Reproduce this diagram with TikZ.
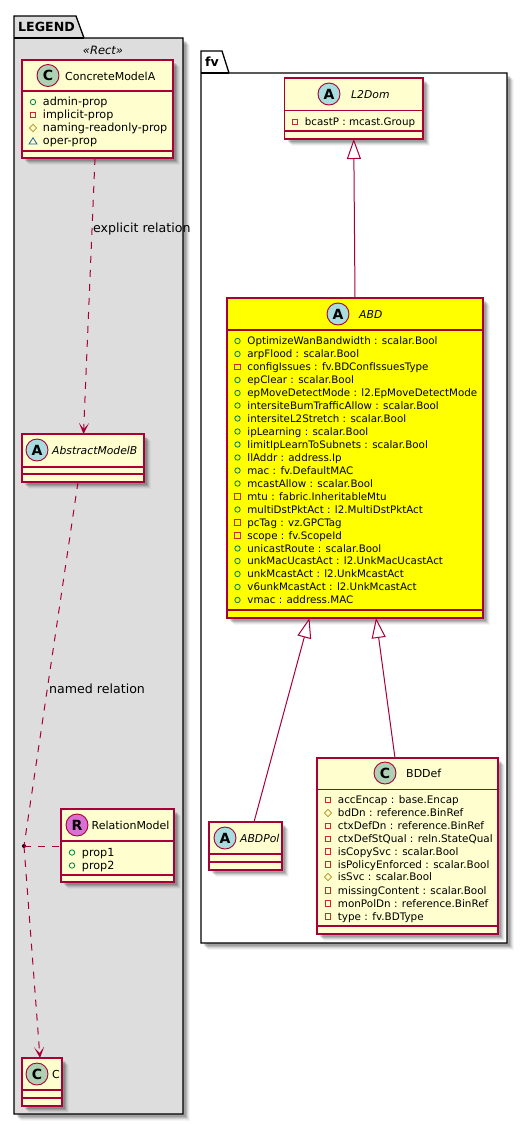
\documentclass[tikz,border=0pt]{standalone}
\usepackage{fontspec}
\setmainfont{DejaVu Sans}
\usetikzlibrary{arrows.meta,calc}
\definecolor{umlred}{HTML}{A80036}
\definecolor{umlfill}{HTML}{FEFECE}
\definecolor{legendgrey}{HTML}{DDDDDD}
\definecolor{cgreen}{HTML}{ADD1B2}
\definecolor{ablue}{HTML}{A9DCDF}
\definecolor{rorchid}{HTML}{DA70D6}
\definecolor{icongreen}{HTML}{038048}
\definecolor{iconred}{HTML}{C82930}
\definecolor{icongold}{HTML}{B38D22}
\definecolor{iconblue}{HTML}{1963A0}
\definecolor{abdyellow}{HTML}{FFFF00}
\newcommand{\attrsize}{10.3}
\tikzset{
  x=1pt,y=-1pt,
  classbox/.style={draw=umlred,line width=1.25pt,inner sep=0pt,outer sep=0pt},
  sepline/.style={draw=umlred,line width=1.25pt},
  pkgline/.style={draw=black,line width=1.3pt},
  spot/.style={circle,draw=umlred,line width=.9pt,inner sep=0pt,minimum size=22pt,font=\fontsize{14}{14}\selectfont\bfseries},
  title/.style={inner sep=0pt,anchor=west,font=\fontsize{11}{12}\selectfont},
  ititle/.style={inner sep=0pt,anchor=west,font=\fontsize{10.8}{12}\selectfont\itshape},
  attrtext/.style={inner sep=0pt,anchor=base west,font=\fontsize{\attrsize}{12}\selectfont},
  linktext/.style={inner sep=0pt,anchor=west,font=\fontsize{12.6}{14}\selectfont},
  dep/.style={draw=umlred,line width=1pt,dash pattern=on 7pt off 7pt},
  depvee/.style={dep,-{Stealth[length=11pt,width=10pt,inset=6pt,fill=umlred,sep=0pt]}},
  gener/.style={draw=umlred,line width=1pt,-{Triangle[length=20pt,width=14pt,fill=white]}},
}
\newcounter{attrcnt}
% soft shadow: x1 y1 x2 y2
\newcommand{\softshade}[4]{%
  \foreach \d/\o in {7/.04,6/.06,5/.09,4/.12,3/.13}{%
    \fill[black,opacity=\o] (#1+\d,#2+\d) rectangle (#3+\d,#4+\d);}}
% name, x1,y1,x2,y2, fill, sep1, sep2
\newcommand{\umlclass}[8]{%
  \softshade{#2}{#3}{#4}{#5}%
  \pgfmathsetmacro{\bw}{#4-#2}\pgfmathsetmacro{\bh}{#5-#3}%
  \node[classbox,fill=#6,minimum width=\bw pt,minimum height=\bh pt] (#1) at ({(#2+#4)/2},{(#3+#5)/2}) {};%
  \draw[sepline] (#2,#7) -- (#4,#7);
  \draw[sepline] (#2,#8) -- (#4,#8);}
% kind x y text
\newcommand{\attr}[4]{%
  \stepcounter{attrcnt}%
  \csname icon#1\endcsname{#2}{#3}%
  \node[attrtext] (attr\theattrcnt) at (#2+9.7,#3+3.6) {#4};}
\newcommand{\iconpub}[2]{\draw[icongreen,line width=.8pt] (#1,#2) circle (2.7pt);}
\newcommand{\iconpriv}[2]{\draw[iconred,line width=.8pt] (#1-2.7,#2-2.7) rectangle (#1+2.7,#2+2.7);}
\newcommand{\iconprot}[2]{\draw[icongold,line width=.8pt] (#1,#2-3.6) -- (#1+3.6,#2) -- (#1,#2+3.6) -- (#1-3.6,#2) -- cycle;}
\newcommand{\iconpack}[2]{\draw[iconblue,line width=.8pt] (#1,#2-3.2) -- (#1+4,#2+3) -- (#1-4,#2+3) -- cycle;}
\begin{document}
\begin{tikzpicture}
\useasboundingbox (0,0) rectangle (528,1125);
% packages
\softshade{14}{38}{183}{1114}
\draw[pkgline,fill=legendgrey] (14,38) -- (14,16) -- (76,16) -- (84,38) -- (183,38) -- (183,1114) -- (14,1114) -- cycle;
\draw[pkgline] (14,38) -- (84,38);
\node[inner sep=0pt,anchor=west,font=\fontsize{12.6}{14}\selectfont\bfseries] (legendlabel) at (18,27) {LEGEND};
\node[inner sep=0pt,font=\fontsize{11.5}{13}\selectfont\itshape] (rectlabel) at (103,50) {«Rect»};
\softshade{201}{73}{507}{943}
\draw[pkgline,fill=white] (201,73) -- (201,51) -- (222,51) -- (229,73) -- (507,73) -- (507,943) -- (201,943) -- cycle;
\draw[pkgline] (201,73) -- (229,73);
\node[inner sep=0pt,anchor=west,font=\fontsize{12.6}{14}\selectfont\bfseries] (fvlabel) at (205,62) {fv};

% ConcreteModelA
\umlclass{concrete}{22}{60}{173}{158}{umlfill}{91}{151}
\node[spot,fill=cgreen] (concretespot) at (48,75.5) {C};
\node[title] (concretetitle) at (65,76) {ConcreteModelA};
\renewcommand{\attrsize}{11.2}
\attr{pub}{33}{102}{admin-prop}
\attr{priv}{33}{115}{implicit-prop}
\attr{prot}{33}{128}{naming-readonly-prop}
\attr{pack}{33}{141}{oper-prop}

% AbstractModelB
\umlclass{abstractb}{22}{434}{144}{482}{umlfill}{467}{474}
\node[spot,fill=ablue] (abstractbspot) at (37,450) {A};
\node[ititle] (abstractbtitle) at (52,450.5) {AbstractModelB};

% RelationModel
\umlclass{relation}{61}{809}{174}{882}{umlfill}{841}{875}
\node[spot,fill=rorchid] (relationspot) at (77,825) {R};
\node[title] (relationtitle) at (91.5,825.5) {RelationModel};
\attr{pub}{72}{852.5}{prop1}
\attr{pub}{72}{865.5}{prop2}

% C
\umlclass{cclass}{22}{1058}{62}{1106}{umlfill}{1090}{1098}
\node[spot,fill=cgreen] (cclassspot) at (37,1074) {C};
\node[title] (cclasstitle) at (52,1074.5) {C};

% L2Dom
\renewcommand{\attrsize}{10.3}
\umlclass{ltwodom}{284.5}{78}{423}{139}{umlfill}{110.5}{131}
\node[spot,fill=ablue] (ltwodomspot) at (329,94) {A};
\node[ititle] (ltwodomtitle) at (351,94.5) {L2Dom};
\attr{priv}{295}{122}{bcastP : mcast.Group}

% ABD
\umlclass{abd}{227}{298}{483}{618}{abdyellow}{330}{610}
\node[spot,fill=ablue] (abdspot) at (338,314) {A};
\node[ititle] (abdtitle) at (359,314.5) {ABD};
\attr{pub}{237.5}{341}{OptimizeWanBandwidth : scalar.Bool}
\attr{pub}{237.5}{354}{arpFlood : scalar.Bool}
\attr{priv}{237.5}{367}{configIssues : fv.BDConfIssuesType}
\attr{pub}{237.5}{380}{epClear : scalar.Bool}
\attr{pub}{237.5}{393}{epMoveDetectMode : l2.EpMoveDetectMode}
\attr{pub}{237.5}{405.5}{intersiteBumTrafficAllow : scalar.Bool}
\attr{pub}{237.5}{418.5}{intersiteL2Stretch : scalar.Bool}
\attr{pub}{237.5}{431.5}{ipLearning : scalar.Bool}
\attr{pub}{237.5}{444.5}{limitIpLearnToSubnets : scalar.Bool}
\attr{pub}{237.5}{457.5}{llAddr : address.Ip}
\attr{pub}{237.5}{470.5}{mac : fv.DefaultMAC}
\attr{pub}{237.5}{483.5}{mcastAllow : scalar.Bool}
\attr{priv}{237.5}{496.5}{mtu : fabric.InheritableMtu}
\attr{pub}{237.5}{509.5}{multiDstPktAct : l2.MultiDstPktAct}
\attr{priv}{237.5}{522.5}{pcTag : vz.GPCTag}
\attr{priv}{237.5}{535.5}{scope : fv.ScopeId}
\attr{pub}{237.5}{548.5}{unicastRoute : scalar.Bool}
\attr{pub}{237.5}{561}{unkMacUcastAct : l2.UnkMacUcastAct}
\attr{pub}{237.5}{574}{unkMcastAct : l2.UnkMcastAct}
\attr{pub}{237.5}{587}{v6unkMcastAct : l2.UnkMcastAct}
\attr{pub}{237.5}{600}{vmac : address.MAC}

% ABDPol
\umlclass{abdpol}{209}{822}{282}{870}{umlfill}{854}{862}
\node[spot,fill=ablue] (abdpolspot) at (225,838) {A};
\node[ititle] (abdpoltitle) at (240,838.5) {ABDPol};

% BDDef
\renewcommand{\attrsize}{10.4}
\umlclass{bddef}{317}{758}{498}{934}{umlfill}{789.5}{926}
\node[spot,fill=cgreen] (bddefspot) at (385,773) {C};
\node[title] (bddeftitle) at (406,773.5) {BDDef};
\attr{priv}{328}{800}{accEncap : base.Encap}
\attr{prot}{328}{813}{bdDn : reference.BinRef}
\attr{priv}{328}{826}{ctxDefDn : reference.BinRef}
\attr{priv}{328}{839}{ctxDefStQual : reln.StateQual}
\attr{priv}{328}{851.5}{isCopySvc : scalar.Bool}
\attr{priv}{328}{864.5}{isPolicyEnforced : scalar.Bool}
\attr{prot}{328}{877}{isSvc : scalar.Bool}
\attr{priv}{328}{890.5}{missingContent : scalar.Bool}
\attr{priv}{328}{903.5}{monPolDn : reference.BinRef}
\attr{priv}{328}{916.5}{type : fv.BDType}

% connectors
\node[circle,fill=black,inner sep=0pt,minimum size=4pt] (junction) at (24,846) {};
\draw[depvee] ([xshift=-2.5pt]concrete.south) -- ([xshift=0.5pt]abstractb.north);
\draw[dep] ([xshift=-5pt]abstractb.south) -- (junction.center);
\draw[depvee] (junction.center) -- ([xshift=-2pt]cclass.north);
\draw[dep] (junction.center) -- (relation.west |- junction.center);
\node[linktext] (explicitlabel) at (93,229) {explicit relation};
\node[linktext] (namedlabel) at (49,689) {named relation};
\draw[gener] (abd.north) -- (ltwodom.south);
\draw[gener] ([xshift=8.5pt]abdpol.north) -- ([xshift=-45.5pt]abd.south);
\draw[gener] ([xshift=-12.5pt]bddef.north) -- ([xshift=21pt]abd.south);
\end{tikzpicture}
\end{document}
